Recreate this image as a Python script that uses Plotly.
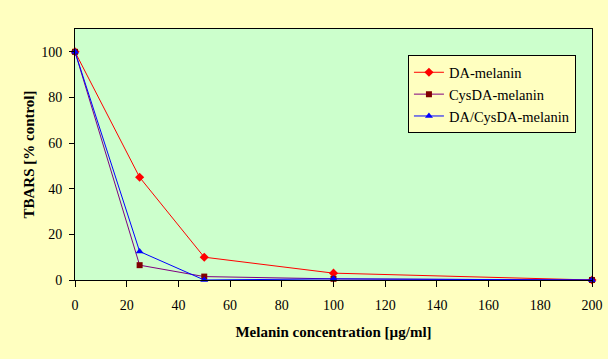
import plotly.graph_objects as go

x_vals = [0, 25, 50, 100, 200]
da_melanin = [100, 45, 10, 3, 0]
cysda_melanin = [100, 6.5, 1.5, 0.5, 0]
da_cysda_melanin = [100, 12.5, 0, 0.5, 0]
x_ticks = [0, 20, 40, 60, 80, 100, 120, 140, 160, 180, 200]
y_ticks = [0, 20, 40, 60, 80, 100]

font_family = "Liberation Serif, Times New Roman, serif"

fig = go.Figure()
fig.add_trace(go.Scatter(x=x_vals, y=da_melanin, name="DA-melanin", mode="lines+markers",
                         line=dict(color="#FF0000", width=1), cliponaxis=False,
                         marker=dict(symbol="diamond", size=7, color="#FF0000")))
fig.add_trace(go.Scatter(x=x_vals, y=cysda_melanin, name="CysDA-melanin", mode="lines+markers",
                         line=dict(color="#800080", width=1), cliponaxis=False,
                         marker=dict(symbol="square", size=6, color="#800000")))
fig.add_trace(go.Scatter(x=x_vals, y=da_cysda_melanin, name="DA/CysDA-melanin", mode="lines+markers",
                         line=dict(color="#0000FF", width=1), cliponaxis=False,
                         marker=dict(symbol="triangle-up", size=7, color="#0000FF")))

fig.update_layout(
    width=608, height=359,
    margin=dict(l=75, r=16, t=29, b=79, autoexpand=False),
    paper_bgcolor="#FFFFC0",
    plot_bgcolor="#CCFFCC",
    font=dict(family=font_family, size=14, color="black"),
    showlegend=True,
    legend=dict(x=0.644, y=0.895, xanchor="left", yanchor="top",
                bgcolor="#FFFFC0", bordercolor="black", borderwidth=1,
                font=dict(family=font_family, size=14.5), tracegroupgap=0),
    xaxis=dict(range=[0, 200], tickvals=x_ticks, ticks="outside", ticklen=6,
               tickcolor="black", showgrid=False, zeroline=False, automargin=False,
               showline=True, linecolor="black", linewidth=1, mirror=True,
               ticklabelstandoff=6,
               title=dict(text="<b>Melanin concentration [µg/ml]</b>", standoff=14,
                          font=dict(size=15)),
               tickfont=dict(size=14)),
    yaxis=dict(range=[0, 110], tickvals=y_ticks, ticks="outside", ticklen=5,
               tickcolor="black", showgrid=False, zeroline=False, automargin=False,
               showline=True, linecolor="black", linewidth=1, mirror=True,
               ticklabelstandoff=4,
               title=dict(text="<b>TBARS [% control]</b>", standoff=2,
                          font=dict(size=15)),
               tickfont=dict(size=14)),
)

fig.write_html("out.html", config={"displayModeBar": False},
               post_script="document.body.style.margin='0';document.body.style.background='#FFFFC0';")
